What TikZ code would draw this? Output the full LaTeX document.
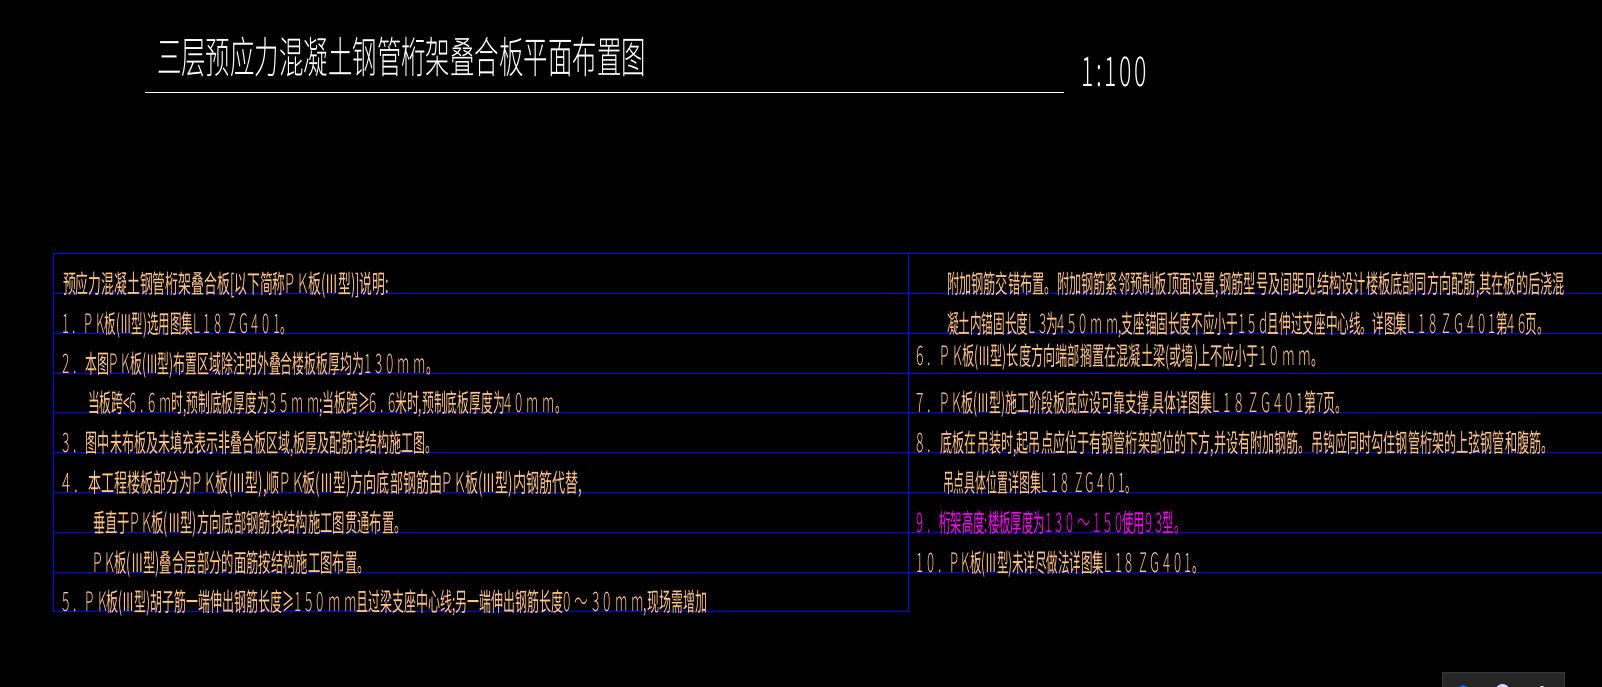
\documentclass[tikz,border=0pt]{standalone}
\usepackage{graphicx}
\usepackage{fontspec}
\setmainfont{Noto Sans CJK SC}
\newfontfamily\lightcjk{Noto Sans CJK SC Light}
\newcommand{\La}[1]{\scalebox{1.15}[1.05]{\addfontfeature{LetterSpace=28}\lightcjk\addfontfeature{LetterSpace=28}#1}}
\newcommand{\fitbox}[3]{\resizebox{#1pt}{#2pt}{\rule{0pt}{0.9em}#3}}
\definecolor{noteorange}{RGB}{255,196,136}
\definecolor{gridblue}{RGB}{0,0,255}
\definecolor{notemagenta}{RGB}{255,0,255}
\tikzset{
 base/.style={anchor=base west,inner sep=0pt,outer sep=0pt},
 note/.style={base,text=noteorange},
 pinknote/.style={base,text=notemagenta},
 titletext/.style={base,text=white,font=\lightcjk},
 grid/.style={draw=gridblue,line width=1.2pt},
}
\begin{document}
\begin{tikzpicture}[x=1pt,y=-1pt]
\useasboundingbox (0,0) rectangle (1602,687);
\clip (0,0) rectangle (1602,687);
\fill[black] (0,0) rectangle (1602,687);
% title
\node[titletext] (title) at (157,74) {\fitbox{489}{39}{三层预应力混凝土钢管桁架叠合板平面布置图}};
\node[titletext] (scale) at (1081,87) {\fitbox{66}{37}{\addfontfeature{LetterSpace=12}1:100}};
\draw[white,line width=1.1pt] (145,92.5) -- (1064,92.5);
% grid
\draw[grid] (53.5,253.5) rectangle (908.5,611.5);
\foreach \y in {293.5,333.5,373.5,412.5,452.5,492.5,532.5,572.5} \draw[grid] (53.5,\y) -- (1602,\y);
\draw[grid] (908.5,253.5) -- (1602,253.5);
% left column
\node[note] (l0) at (63,293) {\fitbox{326}{23}{预应力混凝土钢管桁架叠合板[以下简称\La{PK}板(Ⅲ型)]说明:}};
\node[note] (l1) at (62,333) {\fitbox{230}{23}{\La{1. PK}板(Ⅲ型)选用图集\La{L18 ZG401}。}};
\node[note] (l2) at (62,373) {\fitbox{376}{23}{\La{2. }本图\La{PK}板(Ⅲ型)布置区域除注明外叠合楼板板厚均为\La{130mm}。}};
\node[note] (l3) at (88,412) {\fitbox{479}{23}{当板跨<\La{6.6m}时,预制底板厚度为\La{35mm};当板跨≥\La{6.6}米时,预制底板厚度为\La{40mm}。}};
\node[note] (l4) at (62,452) {\fitbox{376}{23}{\La{3. }图中未布板及未填充表示非叠合板区域,板厚及配筋详结构施工图。}};
\node[note] (l5) at (62,492) {\fitbox{520}{23}{\La{4. }本工程楼板部分为\La{PK}板(Ⅲ型),顺\La{PK}板(Ⅲ型)方向底部钢筋由\La{PK}板(Ⅲ型)内钢筋代替,}};
\node[note] (l6) at (93,532) {\fitbox{314}{23}{垂直于\La{PK}板(Ⅲ型)方向底部钢筋按结构施工图贯通布置。}};
\node[note] (l7) at (93,572) {\fitbox{277}{23}{\La{PK}板(Ⅲ型)叠合层部分的面筋按结构施工图布置。}};
\node[note] (l8) at (62,611) {\fitbox{645}{23}{\La{5. PK}板(Ⅲ型)胡子筋一端伸出钢筋长度≥\La{150mm}且过梁支座中心线;另一端伸出钢筋长度\La{0～30mm},现场需增加}};
% right column
\node[note] (r0) at (947,293) {\fitbox{618}{23}{附加钢筋交错布置。附加钢筋紧邻预制板顶面设置,钢筋型号及间距见结构设计楼板底部同方向配筋,其在板的后浇混}};
\node[note] (r1) at (947,333) {\fitbox{602}{23}{凝土内锚固长度\La{L3}为\La{450mm},支座锚固长度不应小于\La{15d}且伸过支座中心线。详图集\La{L18 ZG401}第\La{46}页。}};
\node[note] (r2) at (916.5,365) {\fitbox{407}{23}{\La{6. PK}板(Ⅲ型)长度方向端部搁置在混凝土梁(或墙)上不应小于\La{10mm}。}};
\node[note] (r3) at (916.5,412) {\fitbox{431}{23}{\La{7. PK}板(Ⅲ型)施工阶段板底应设可靠支撑,具体详图集\La{L18 ZG401}第\La{7}页。}};
\node[note] (r4) at (916.5,452) {\fitbox{637}{23}{\La{8. }底板在吊装时,起吊点应位于有钢管桁架部位的下方,并设有附加钢筋。吊钩应同时勾住钢管桁架的上弦钢管和腹筋。}};
\node[note] (r5) at (943,492) {\fitbox{193}{23}{吊点具体位置详图集\La{L18 ZG401}。}};
\node[pinknote] (r6) at (916.5,532) {\fitbox{269}{23}{\La{9. }桁架高度:楼板厚度为\La{130～150}使用\La{93}型。}};
\node[note] (r7) at (916.5,572) {\fitbox{287}{23}{\La{10. PK}板(Ⅲ型)未详尽做法详图集\La{L18 ZG401}。}};
% corner of the toolbar at the bottom edge
\filldraw[fill=black!85!white,draw=black!78!white] (1442,672) rectangle (1564,690);
\fill[blue!60!cyan] (1463,690) circle (5);
\fill[blue!15!white] (1502.5,691) circle (7);
\fill[white] (1542,689) circle (3);
\end{tikzpicture}
\end{document}
